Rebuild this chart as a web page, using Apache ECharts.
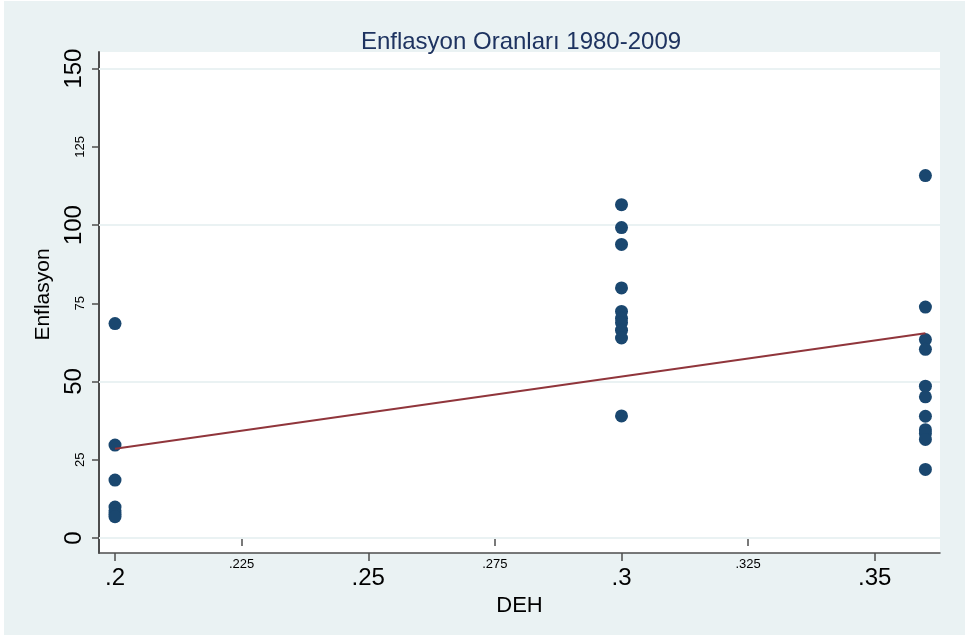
<!DOCTYPE html>
<html>
<head>
<meta charset="utf-8">
<script src="https://cdn.jsdelivr.net/npm/echarts@6/dist/echarts.min.js"></script>
<style>
html,body{margin:0;padding:0;background:#ffffff;}
#wrap{position:absolute;left:4px;top:1px;width:961px;height:634px;background:#eaf2f3;}
#c{position:absolute;left:0;top:0;width:965px;height:638px;}
</style>
</head>
<body>
<div id="wrap"></div>
<div id="c"></div>
<script>
// ---- data ----
const title = 'Enflasyon Oranları 1980-2009';
const xName = 'DEH';
const yName = 'Enflasyon';
const deh = [0.2,0.2,0.2,0.2,0.2,0.2,0.2,
  0.3,0.3,0.3,0.3,0.3,0.3,0.3,0.3,0.3,0.3,
  0.36,0.36,0.36,0.36,0.36,0.36,0.36,0.36,0.36,0.36,0.36];
const enflasyon = [68.5,29.7,18.5,9.9,8.7,7.6,6.8,
  106.5,99.2,93.8,79.9,72.4,70.2,68.8,66.4,63.9,39.0,
  115.8,73.8,63.4,60.3,48.5,45.1,38.9,34.6,33.4,31.5,21.9];
const fitX = [0.2, 0.36];
const fitY = [28.5, 65.4];
const xMajorTicks = [0.2, 0.25, 0.3, 0.35];
const xMinorTicks = [0.225, 0.275, 0.325];
const xMajorLabels = ['.2', '.25', '.3', '.35'];
const xMinorLabels = ['.225', '.275', '.325'];
const yMajorTicks = [0, 50, 100, 150];
const yMinorTicks = [25, 75, 125];
const yGrid = [0, 50, 100, 150];

const xMin = 0.19684, xMax = 0.36288;
const yMin = -4.8, yMax = 155.3;

const font = 'Liberation Sans, Arial, sans-serif';
const axisColor = '#4d4d4d';

function xLabelFmt(ticks, labels){ return v => { const i = ticks.findIndex(t => Math.abs(t - v) < 1e-9); return i >= 0 ? labels[i] : ''; }; }

const chart = echarts.init(document.getElementById('c'), null, {renderer:'canvas'});
chart.setOption({
  backgroundColor: 'transparent',
  animation: false,
  title: {
    text: title, left: 516, top: 25, textAlign: 'center',
    textStyle: {fontFamily: font, fontSize: 24, fontWeight: 'normal', color: '#1e3360'}
  },
  grid: {left: 99, right: 25, top: 52, bottom: 85, show: true, backgroundColor: '#ffffff', borderWidth: 0},
  xAxis: [{
    type: 'value', min: xMin, max: xMax, position: 'bottom', offset: 0,
    name: xName, nameLocation: 'middle', nameGap: 33,
    nameTextStyle: {fontFamily: font, fontSize: 22, color: '#000'},
    axisLine: {show: true, onZero: false, lineStyle: {color: axisColor, width: 1.5}},
    axisTick: {show: true, customValues: xMajorTicks, length: 8, lineStyle: {color: axisColor, width: 1.5}},
    axisLabel: {customValues: xMajorTicks, formatter: xLabelFmt(xMajorTicks, xMajorLabels), margin: 13, fontFamily: font, fontSize: 24, color: '#000'},
    splitLine: {show: false}
  }, {
    type: 'value', min: xMin, max: xMax, position: 'bottom', offset: 0,
    axisLine: {show: false},
    axisTick: {show: true, customValues: xMinorTicks, length: 8, lineStyle: {color: axisColor, width: 1.5}},
    axisLabel: {customValues: xMinorTicks, formatter: xLabelFmt(xMinorTicks, xMinorLabels), margin: 5, fontFamily: font, fontSize: 13, color: '#000'},
    splitLine: {show: false}
  }],
  yAxis: [{
    type: 'value', min: yMin, max: yMax, position: 'left', offset: 0,
    name: yName, nameLocation: 'middle', nameGap: 44, nameRotate: 90,
    nameTextStyle: {fontFamily: font, fontSize: 21, color: '#000', padding: [0, 0, 0, 16]},
    axisLine: {show: true, onZero: false, lineStyle: {color: axisColor, width: 2}},
    axisTick: {show: true, customValues: yMajorTicks, length: 7, lineStyle: {color: axisColor, width: 1.5}},
    axisLabel: {customValues: yMajorTicks, rotate: 90, margin: 13, fontFamily: font, fontSize: 24, color: '#000'},
    splitLine: {show: false}
  }, {
    type: 'value', min: yMin, max: yMax, position: 'left', offset: 0,
    axisLine: {show: false},
    axisTick: {show: true, customValues: yMinorTicks, length: 7, lineStyle: {color: axisColor, width: 1.5}},
    axisLabel: {customValues: yMinorTicks, rotate: 90, margin: 12, fontFamily: font, fontSize: 13, color: '#000'},
    splitLine: {show: false}
  }],
  series: [{
    type: 'scatter',
    xAxisIndex: 0, yAxisIndex: 0,
    data: deh.map((x, i) => [x, enflasyon[i]]),
    symbol: 'circle', symbolSize: 13,
    itemStyle: {color: '#1a476f', opacity: 1},
    z: 3,
    markLine: {
      silent: true, symbol: 'none', label: {show: false},
      lineStyle: {color: '#eaf2f3', width: 2, type: 'solid'},
      data: yGrid.map(v => ({yAxis: v})),
      z: 1
    }
  }, {
    type: 'line',
    xAxisIndex: 0, yAxisIndex: 0,
    data: fitX.map((x, i) => [x, fitY[i]]),
    showSymbol: false, symbol: 'none',
    lineStyle: {color: '#90353b', width: 2},
    z: 4
  }]
});
</script>
</body>
</html>
